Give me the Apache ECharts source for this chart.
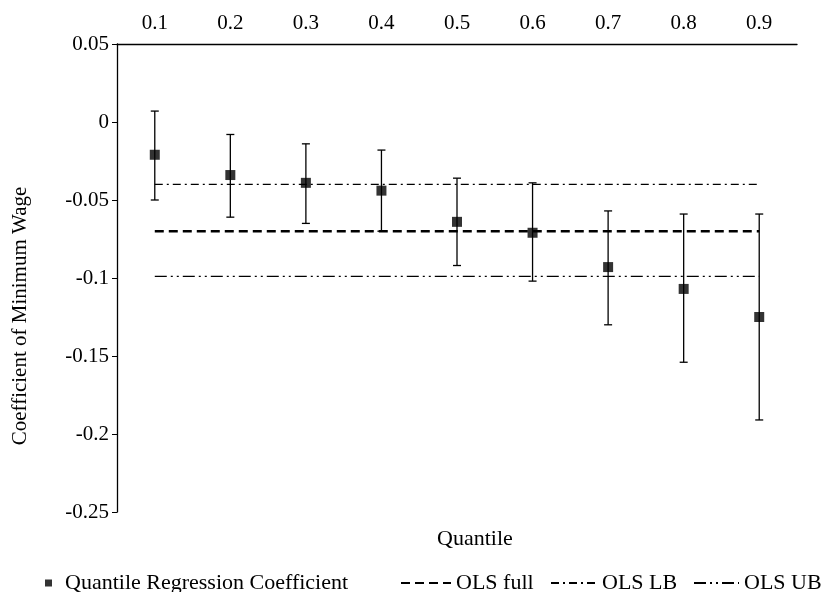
<!DOCTYPE html>
<html>
<head>
<meta charset="utf-8">
<script src="https://cdn.jsdelivr.net/npm/echarts@6/dist/echarts.min.js"></script>
<style>
  html, body { margin: 0; padding: 0; background: #fff; }
  #chart { width: 821px; height: 592px; }
</style>
</head>
<body>
<div id="chart"></div>
<script>
// 分位数 / quantiles
let quantiles = ['0.1', '0.2', '0.3', '0.4', '0.5', '0.6', '0.7', '0.8', '0.9']
// quantile regression coefficient and its interval
let coef = [-0.021, -0.034, -0.039, -0.044, -0.064, -0.071, -0.093, -0.107, -0.125]
let upper = [0.007, -0.008, -0.014, -0.018, -0.036, -0.039, -0.057, -0.059, -0.059]
let lower = [-0.050, -0.061, -0.065, -0.070, -0.092, -0.102, -0.130, -0.154, -0.191]
// OLS reference lines
let olsFull = [-0.07, -0.07, -0.07, -0.07, -0.07, -0.07, -0.07, -0.07, -0.07]
let olsLB = [-0.04, -0.04, -0.04, -0.04, -0.04, -0.04, -0.04, -0.04, -0.04]
let olsUB = [-0.099, -0.099, -0.099, -0.099, -0.099, -0.099, -0.099, -0.099, -0.099]

let font = "'Liberation Serif', 'Times New Roman', serif"
let fontSize = 21
let titleSize = 22

let errData = quantiles.map(function (q, i) {
  return [i, lower[i], upper[i]]
})

function renderErrorBar (params, api) {
  let top = api.coord([api.value(0), api.value(2)])
  let bottom = api.coord([api.value(0), api.value(1)])
  let half = 4
  let style = { stroke: '#000', lineWidth: 1.3 }
  return {
    type: 'group',
    children: [
      { type: 'line', shape: { x1: top[0], y1: top[1], x2: bottom[0], y2: bottom[1] }, style: style },
      { type: 'line', shape: { x1: top[0] - half, y1: top[1], x2: top[0] + half, y2: top[1] }, style: style },
      { type: 'line', shape: { x1: bottom[0] - half, y1: bottom[1], x2: bottom[0] + half, y2: bottom[1] }, style: style }
    ]
  }
}

let chart = echarts.init(document.getElementById('chart'))

let legendText = { fontFamily: font, fontSize: titleSize, color: '#000' }
// 线条图例里不要圆点
let hiddenDot = { color: '#000', opacity: 0 }

let option = {
  backgroundColor: '#fff',
  animation: false,
  textStyle: { fontFamily: font },
  grid: {
    left: 117,
    right: 24,
    top: 44,
    bottom: 80
  },
  legend: [{
    data: ['Quantile Regression Coefficient'],
    left: 40,
    top: 567,
    itemWidth: 7,
    itemHeight: 7,
    textStyle: Object.assign({ padding: [0, 0, 0, 8] }, legendText)
  }, {
    data: ['OLS full'],
    left: 395,
    top: 567,
    itemWidth: 50,
    itemStyle: hiddenDot,
    textStyle: legendText
  }, {
    data: ['OLS LB'],
    left: 545,
    top: 567,
    itemWidth: 46,
    itemStyle: hiddenDot,
    textStyle: legendText
  }, {
    data: ['OLS UB'],
    left: 688,
    top: 567,
    itemWidth: 45,
    itemStyle: hiddenDot,
    textStyle: legendText
  }],
  graphic: [{
    // x axis title, the axis itself sits on top
    type: 'text',
    left: 437,
    top: 528,
    style: { text: 'Quantile', font: titleSize + 'px ' + font, fill: '#000' }
  }, {
    type: 'text',
    x: 20,
    y: 316,
    rotation: Math.PI / 2,
    style: {
      text: 'Coefficient of Minimum Wage',
      font: fontSize + 'px ' + font,
      fill: '#000',
      align: 'center',
      verticalAlign: 'middle'
    }
  }],
  xAxis: {
    type: 'category',
    position: 'top',
    data: quantiles,
    boundaryGap: true,
    axisLine: { onZero: false, lineStyle: { color: '#000', width: 1.3 } },
    axisTick: { inside: true, length: 4, lineStyle: { color: '#000' } },
    axisLabel: { color: '#000', fontFamily: font, fontSize: fontSize, margin: 10 },
    splitLine: { show: false }
  },
  yAxis: {
    type: 'value',
    min: -0.25,
    max: 0.05,
    interval: 0.05,
    axisLine: { show: true, onZero: false, lineStyle: { color: '#000', width: 1.3 } },
    axisTick: { show: true, length: 5, lineStyle: { color: '#000' } },
    axisLabel: { color: '#000', fontFamily: font, fontSize: fontSize, margin: 8 },
    splitLine: { show: false }
  },
  series: [{
    name: 'error',
    type: 'custom',
    renderItem: renderErrorBar,
    data: errData,
    encode: { x: 0, y: [1, 2] },
    z: 2
  }, {
    name: 'OLS full',
    type: 'line',
    data: olsFull,
    symbol: 'none',
    lineStyle: { color: '#000', width: 2.6, type: [9, 5] },
    itemStyle: hiddenDot,
    z: 3
  }, {
    name: 'OLS LB',
    type: 'line',
    data: olsLB,
    symbol: 'none',
    lineStyle: { color: '#000', width: 1.3, type: [8, 4, 2, 4] },
    itemStyle: hiddenDot,
    z: 3
  }, {
    name: 'OLS UB',
    type: 'line',
    data: olsUB,
    symbol: 'none',
    lineStyle: { color: '#000', width: 1.3, type: [12, 4, 2, 4, 2, 4] },
    itemStyle: hiddenDot,
    z: 3
  }, {
    name: 'Quantile Regression Coefficient',
    type: 'scatter',
    data: coef,
    symbol: 'rect',
    symbolSize: 10,
    itemStyle: { color: '#000' },
    z: 5
  }]
}

chart.setOption(option)
</script>
</body>
</html>
